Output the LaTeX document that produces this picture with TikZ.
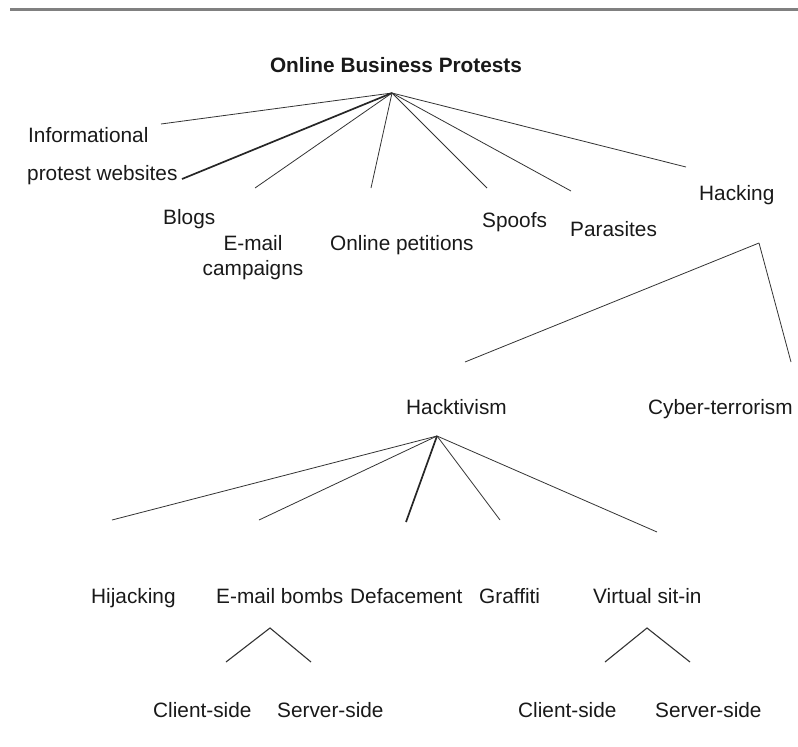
\documentclass[tikz,border=0pt]{standalone}
\usepackage{fontspec}
\setmainfont{Liberation Sans}
\begin{document}
\begin{tikzpicture}[x=1pt,y=-1pt,
  lbl/.style={inner sep=0pt,anchor=base west,text=black!90,font=\fontsize{20.8}{25}\selectfont},
  ttl/.style={inner sep=0pt,anchor=base,text=black!90,font=\fontsize{20.8}{25}\selectfont\bfseries},
  edge/.style={draw=black!80,line width=0.8pt},
  thick edge/.style={draw=black!85,line width=1.7pt},
  rule/.style={draw=black!50,line width=2.2pt}]
\useasboundingbox (0,0) rectangle (798,747);
% top rule
\coordinate (ruleL) at (10,9.5);
\coordinate (ruleR) at (798,9.5);
\draw[rule] (ruleL) -- (ruleR);
% labels
\node[ttl] (title) at (396,72) {Online Business Protests};
\node[lbl] (info1) at (28,142) {Informational};
\node[lbl] (info2) at (27,180) {protest websites};
\node[lbl] (blogs) at (163,224) {Blogs};
\node[inner sep=0pt,anchor=north,align=center,text=black!90,font=\fontsize{20.8}{25}\selectfont] (email) at (253,235.5) {E-mail\\campaigns};
\node[lbl] (petitions) at (330,250) {Online petitions};
\node[lbl] (spoofs) at (482,227) {Spoofs};
\node[lbl] (parasites) at (570,236) {Parasites};
\node[lbl] (hacking) at (699,200) {Hacking};
\node[lbl] (hacktivism) at (406,414) {Hacktivism};
\node[lbl] (cyber) at (648,414) {Cyber-terrorism};
\node[lbl] (hijacking) at (91,603) {Hijacking};
\node[lbl] (bombs) at (216,603) {E-mail bombs};
\node[lbl] (deface) at (350,603) {Defacement};
\node[lbl] (graffiti) at (479,603) {Graffiti};
\node[lbl] (sitin) at (593,603) {Virtual sit-in};
\node[lbl] (client1) at (153,717) {Client-side};
\node[lbl] (server1) at (277,717) {Server-side};
\node[lbl] (client2) at (518,717) {Client-side};
\node[lbl] (server2) at (655,717) {Server-side};
% connector coordinates
\coordinate (hub) at (392,93);
\coordinate (eInfo) at (161,124);
\coordinate (eProt) at (182,179);
\coordinate (eBlogs) at (255,188);
\coordinate (ePet) at (371,188);
\coordinate (eSpoof) at (487,188);
\coordinate (ePara) at (571,191);
\coordinate (eHack) at (686,167);
\coordinate (hackHub) at (759,243);
\coordinate (eHacktiv) at (465,362);
\coordinate (eCyber) at (791,362);
\coordinate (hub2) at (437,436);
\coordinate (eHij) at (112,520);
\coordinate (eBombs) at (259,520);
\coordinate (eDef) at (406,522);
\coordinate (eGraf) at (500,520);
\coordinate (eSit) at (657,532);
\coordinate (v1top) at (270,628);
\coordinate (v1l) at (226,662);
\coordinate (v1r) at (311,662);
\coordinate (v2top) at (647,628);
\coordinate (v2l) at (605,662);
\coordinate (v2r) at (690,662);
% connectors
\draw[edge] (hub) -- (eInfo);
\draw[thick edge] (hub) -- (eProt);
\draw[edge] (hub) -- (eBlogs);
\draw[edge] (hub) -- (ePet);
\draw[edge] (hub) -- (eSpoof);
\draw[edge] (hub) -- (ePara);
\draw[edge] (hub) -- (eHack);
\draw[edge] (hackHub) -- (eHacktiv);
\draw[edge] (hackHub) -- (eCyber);
\draw[edge] (hub2) -- (eHij);
\draw[edge] (hub2) -- (eBombs);
\draw[thick edge] (hub2) -- (eDef);
\draw[edge] (hub2) -- (eGraf);
\draw[edge] (hub2) -- (eSit);
\draw[edge,line width=1.1pt] (v1l) -- (v1top) -- (v1r);
\draw[edge,line width=1.1pt] (v2l) -- (v2top) -- (v2r);
\end{tikzpicture}
\end{document}
